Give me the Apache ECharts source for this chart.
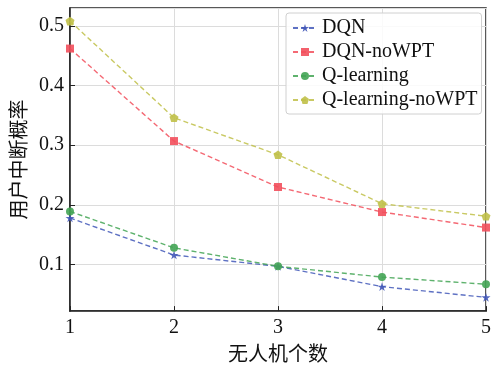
<!DOCTYPE html>
<html><head><meta charset="utf-8">
<script src="https://cdn.jsdelivr.net/npm/echarts@6/dist/echarts.min.js"></script>
<style>html,body{margin:0;padding:0;background:#fff}#c{width:494px;height:368px}</style>
</head><body><div id="c"></div>
<script>
const categories = [1, 2, 3, 4, 5];
const dqn = [0.178, 0.116, 0.097, 0.063, 0.045];
const dqnNoWPT = [0.462, 0.307, 0.230, 0.188, 0.162];
const qlearning = [0.189, 0.128, 0.097, 0.079, 0.067];
const qlearningNoWPT = [0.508, 0.346, 0.284, 0.202, 0.181];
const seriesNames = ['DQN', 'DQN-noWPT', 'Q-learning', 'Q-learning-noWPT'];
const xTitle = '无人机个数';
const yTitle = '用户中断概率';

const STAR = 'path://M0,-10 L2.245,-3.09 L9.51,-3.09 L3.633,1.18 L5.878,8.09 L0,3.82 L-5.878,8.09 L-3.633,1.18 L-9.51,-3.09 L-2.245,-3.09 Z';
const PENT = 'path://M0,-10 L9.51,-3.09 L5.878,8.09 L-5.878,8.09 L-9.51,-3.09 Z';
const serif = '"Liberation Serif", "Times New Roman", serif';
const cjk = '"Noto Sans CJK SC", sans-serif';

function mk(name, data, color, symbol, size) {
  return {
    name, type: 'line', data: categories.map((c, i) => [c, data[i]]),
    symbol, symbolSize: size, symbolKeepAspect: true,
    lineStyle: { color, width: 1.4, type: [5, 3] , opacity: 0.85},
    itemStyle: { color, opacity: 0.9 },
    emphasis: { disabled: true }
  };
}
const chart = echarts.init(document.getElementById('c'), null, { renderer: 'canvas' });
chart.setOption({
  animation: false,
  backgroundColor: '#fff',
  grid: { left: 70, right: 7, top: 8, bottom: 51, show: true, borderColor: '#222', borderWidth: 1.5, backgroundColor: 'transparent' },
  legend: {
    orient: 'vertical', left: 286, top: 13, width: 195,
    padding: [5, 4, 4, 6], itemGap: 4, itemWidth: 24, itemHeight: 10,
    backgroundColor: 'rgba(255,255,255,0.85)', borderColor: '#d0d0d0', borderWidth: 1, borderRadius: 3,
    textStyle: { fontFamily: serif, fontSize: 20, color: '#111', padding: [0, 0, 0, 0] },
    data: seriesNames
  },
  xAxis: {
    type: 'value', min: 1, max: 5, interval: 1,
    name: xTitle, nameLocation: 'middle', nameGap: 25,
    nameTextStyle: { fontFamily: cjk, fontSize: 20, color: '#111' },
    axisLine: { lineStyle: { color: '#222', width: 1.5 } },
    axisTick: { inside: true, length: 5, lineStyle: { color: '#222' } },
    axisLabel: { fontFamily: serif, fontSize: 20, color: '#111', margin: 7 },
    splitLine: { show: true, lineStyle: { color: '#dcdcdc', width: 1 } }
  },
  yAxis: {
    type: 'value', min: 0.022, max: 0.53, splitNumber: 5,
    name: yTitle, nameLocation: 'middle', nameGap: 36, nameRotate: 90,
    nameTextStyle: { fontFamily: cjk, fontSize: 20, color: '#111' },
    axisLine: { show: true, lineStyle: { color: '#222', width: 1.5 } },
    axisTick: { show: true, inside: true, length: 5, lineStyle: { color: '#222' } },
    axisLabel: { fontFamily: serif, fontSize: 20, color: '#111', margin: 6, showMinLabel: false, showMaxLabel: false,
      formatter: v => (Math.round(v * 10) / 10).toFixed(1) },
    splitLine: { show: true, lineStyle: { color: '#dcdcdc', width: 1 } }
  },
  series: [
    mk(seriesNames[0], dqn, '#4258b8', STAR, 9),
    mk(seriesNames[1], dqnNoWPT, '#f24f5c', 'rect', 8),
    mk(seriesNames[2], qlearning, '#42a454', 'circle', 8),
    mk(seriesNames[3], qlearningNoWPT, '#c0c048', PENT, 9)
  ]
});
</script></body></html>
